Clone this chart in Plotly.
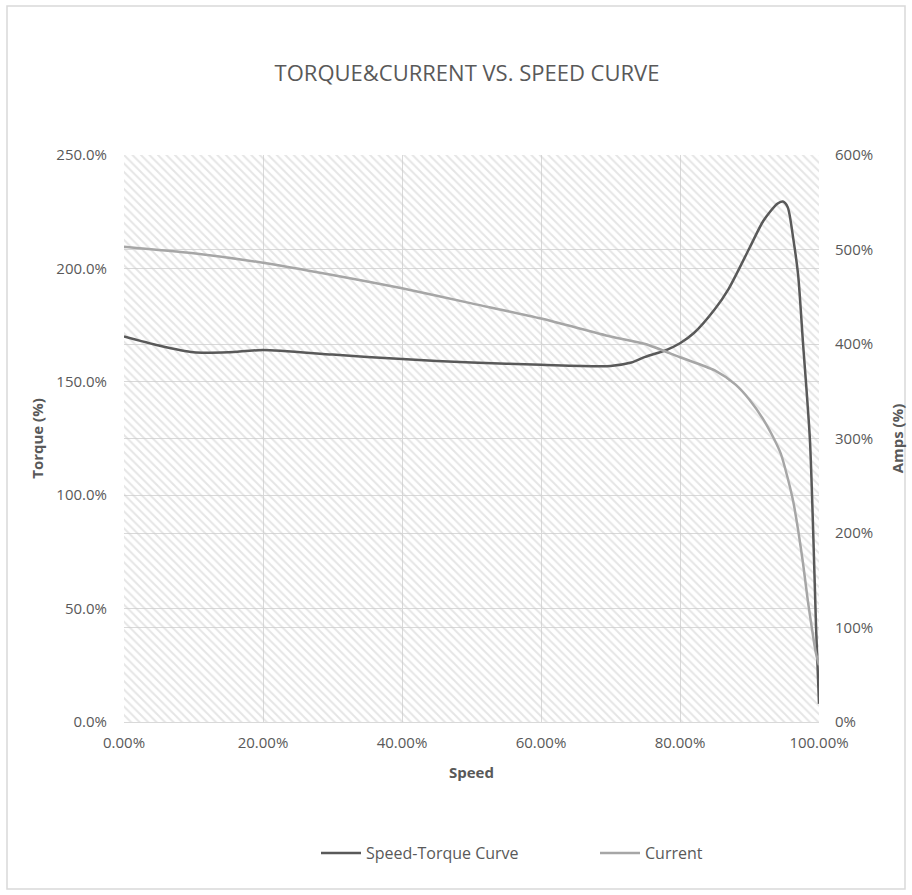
import plotly.graph_objects as go

# ---- data ----
torque_speed = [0.0, 0.05, 0.10, 0.15, 0.20, 0.30, 0.40, 0.50, 0.60, 0.70, 0.73, 0.75, 0.78, 0.80,
                0.82, 0.85, 0.87, 0.90, 0.92, 0.94, 0.948, 0.955, 0.963, 0.970, 0.977, 0.987, 0.996, 1.0]
torque_pct = [170.0, 166.0, 163.0, 163.0, 164.0, 162.0, 160.0, 158.5, 157.5, 157.0, 158.5, 161.0, 164.0, 167.0,
              171.5, 182.0, 191.0, 209.0, 221.0, 228.5, 229.5, 227.0, 213.0, 197.0, 167.0, 124.0, 40.0, 8.0]

current_speed = [0.0, 0.10, 0.20, 0.30, 0.40, 0.50, 0.60, 0.70, 0.75, 0.80, 0.85, 0.88, 0.90, 0.92,
                 0.935, 0.945, 0.955, 0.963, 0.970, 0.977, 0.984, 0.990, 0.995, 1.0]
current_pct = [503.0, 496.0, 486.0, 473.0, 459.0, 443.0, 427.0, 408.0, 400.0, 386.0, 372.0, 357.0, 341.0, 320.0,
               300.0, 284.0, 258.0, 233.0, 203.0, 168.0, 128.0, 98.0, 75.0, 60.0]

x_ticks = [0.0, 0.2, 0.4, 0.6, 0.8, 1.0]
torque_ticks = [0, 50, 100, 150, 200, 250]
amps_ticks = [0, 100, 200, 300, 400, 500, 600]

TXT = "#595959"
GRID = "#d9d9d9"
FONT = "Open Sans"
NOTICK = "rgba(0,0,0,0)"

fig = go.Figure()

# hatched plot-area background
fig.add_trace(go.Scatter(
    x=[x_ticks[0], x_ticks[-1], x_ticks[-1], x_ticks[0], x_ticks[0]],
    y=[torque_ticks[0], torque_ticks[0], torque_ticks[-1], torque_ticks[-1], torque_ticks[0]],
    mode="lines", line=dict(width=0), fill="toself",
    fillcolor="rgba(0,0,0,0)",
    fillpattern=dict(shape="\\", fgcolor="#cccccc", bgcolor="rgba(0,0,0,0)", size=6, solidity=0.33),
    hoverinfo="skip", showlegend=False,
))

fig.add_trace(go.Scatter(
    x=torque_speed, y=torque_pct, mode="lines", name="Speed-Torque Curve",
    line=dict(color="#595959", width=2.5, shape="spline", smoothing=0.7),
    yaxis="y",
))
fig.add_trace(go.Scatter(
    x=current_speed, y=current_pct, mode="lines", name="Current",
    line=dict(color="#a6a6a6", width=2.5, shape="spline", smoothing=0.7),
    yaxis="y2",
))

fig.update_layout(
    width=912, height=895,
    margin=dict(l=124, r=93, t=155, b=173, autoexpand=False),
    paper_bgcolor="white", plot_bgcolor="white",
    font=dict(family=FONT, color=TXT, size=15),
    title=dict(text="TORQUE&CURRENT VS. SPEED CURVE", x=467 / 912, xanchor="center",
               y=1 - 73 / 895, yanchor="middle",
               font=dict(family=FONT, size=22, color=TXT)),
    xaxis=dict(range=[0, 1], tickvals=x_ticks, tickformat=".2%",
               showgrid=True, gridcolor=GRID, gridwidth=1, zeroline=False,
               showline=True, linecolor=GRID, linewidth=1, automargin=False,
               ticks="outside", ticklen=7, tickcolor=NOTICK,
               title=dict(text="<b>Speed</b>", font=dict(size=15, color=TXT), standoff=16),
               tickfont=dict(size=15, color=TXT)),
    yaxis=dict(range=[0, 250], tickvals=torque_ticks,
               ticktext=[f"{v:.1f}%" for v in torque_ticks],
               showgrid=True, gridcolor=GRID, gridwidth=1, zeroline=False, automargin=False,
               showline=False, ticks="outside", ticklen=13, tickcolor=NOTICK,
               title=dict(text="<b>Torque (%)</b>", font=dict(size=15, color=TXT), standoff=9),
               tickfont=dict(size=15, color=TXT)),
    yaxis2=dict(range=[0, 600], tickvals=amps_ticks,
                ticktext=[f"{v}%" for v in amps_ticks],
                overlaying="y", side="right", automargin=False,
                showgrid=True, gridcolor=GRID, gridwidth=1, zeroline=False,
                showline=False, ticks="outside", ticklen=12, tickcolor=NOTICK,
                title=dict(text="<b>Amps (%)</b>", font=dict(size=15, color=TXT), standoff=20),
                tickfont=dict(size=15, color=TXT)),
    legend=dict(orientation="h", x=(316 - 124) / 695, xanchor="left",
                y=(722 - 853) / 567, yanchor="middle",
                font=dict(size=16, color=TXT), entrywidth=224, entrywidthmode="pixels",
                traceorder="normal", itemwidth=40),
    shapes=[dict(type="rect", xref="paper", yref="paper",
                 x0=(7 - 124) / 695, x1=(905 - 124) / 695,
                 y0=(722 - 889) / 567, y1=(722 - 6) / 567,
                 line=dict(color="#d9d9d9", width=1.5), fillcolor="rgba(0,0,0,0)", layer="below")],
)

fig.write_html("out.html",
               config={"displayModeBar": False},
               post_script="document.body.style.margin='0px';document.body.style.overflow='hidden';")
